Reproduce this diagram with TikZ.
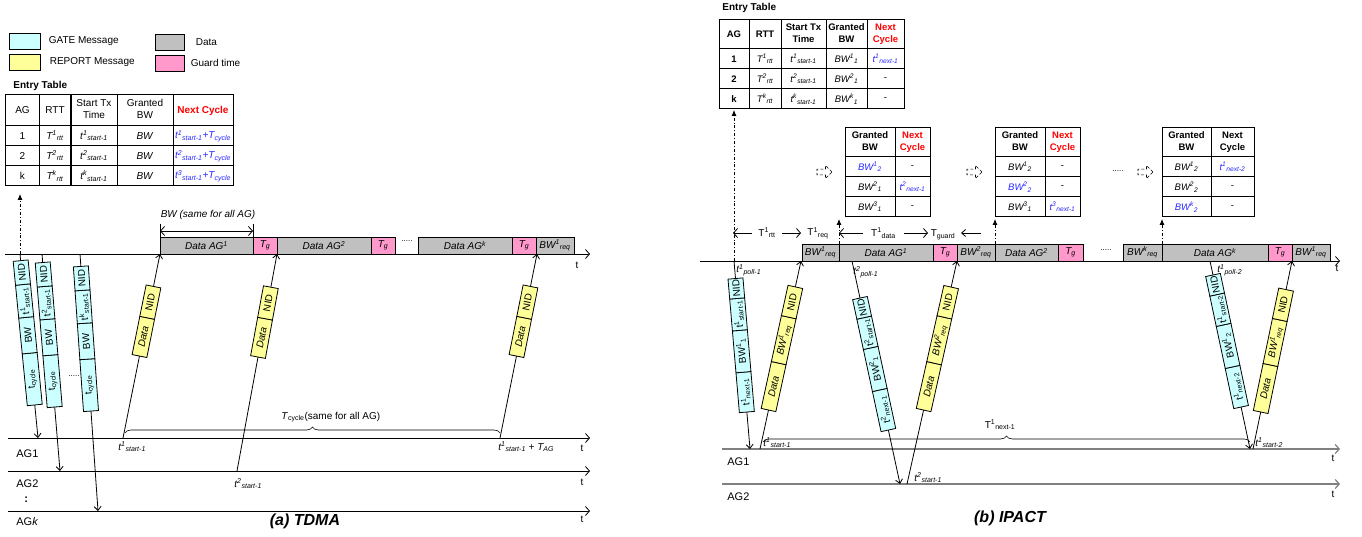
\documentclass[tikz,border=0pt]{standalone}
\usepackage{fontspec}
\setmainfont{Liberation Sans}
\usepackage{tikz}
\usetikzlibrary{arrows,arrows.meta,positioning,matrix,decorations.pathreplacing,shapes.arrows}

\definecolor{gatecol}{RGB}{204,255,255}
\definecolor{repcol}{RGB}{255,255,153}
\definecolor{datacol}{RGB}{192,192,192}
\definecolor{guardcol}{RGB}{255,153,204}
\definecolor{nextblue}{RGB}{40,40,255}
\definecolor{aggray}{RGB}{128,128,128}

\newcommand{\supsub}[2]{\textsuperscript{#1}\textsubscript{#2}}
\newcommand{\twoline}[2]{\begin{tabular}{@{}c@{}}#1\\[2.5pt]#2\end{tabular}}
\newcommand{\fsz}[1]{\fontsize{#1}{#1}\selectfont}

\begin{document}
\begin{tikzpicture}[
	x=1pt, y=-1pt,
	line width=0.8pt,
	>=latex,
	msg/.style={-{Straight Barb[length=4pt,width=7pt]}},
	tline/.style={-{Straight Barb[length=4pt,width=9pt]}},
	dim/.style={{Straight Barb[length=4pt,width=9pt]}-{Straight Barb[length=4pt,width=9pt]}},
	ctrl/.style={-{Latex[length=6pt,width=5pt]}, dash dot},
	pkt/.style={draw, minimum height=15, inner sep=0pt, outer sep=0pt, anchor=west, font=\fsz{10}},
	gate/.style={pkt, fill=gatecol},
	report/.style={pkt, fill=repcol},
	dbar/.style={draw, fill=datacol, minimum height=17, inner sep=0pt, outer sep=0pt, font=\fsz{10}\itshape},
	guard/.style={dbar, fill=guardcol},
	lbl/.style={inner sep=1pt, font=\fsz{10}},
	aglbl/.style={inner sep=0pt, anchor=west, font=\fsz{11}},
	legbox/.style={draw, minimum width=31, minimum height=16, inner sep=0pt},
	hollow/.style={single arrow, draw, densely dashed, line width=0.6pt, minimum height=15, minimum width=13, inner sep=2.5pt, single arrow head extend=3.5pt},
	tbl/.style={matrix of nodes, anchor=north west, inner sep=0pt, line width=1pt,
		column sep=-\pgflinewidth, row sep=-\pgflinewidth,
		nodes={draw, anchor=center, inner sep=1pt, minimum height=20, font=\fsz{10}}}
	]

\path[use as bounding box, fill=white] (0,0) rectangle (1362,537);

% legend
\node[legbox, fill=gatecol] (lgGate) at (24.5,41) {};
\node[lbl, right=7pt of lgGate] (lgGateT) {GATE Message};
\node[legbox, fill=repcol] (lgRep) at (24.5,62.5) {};
\node[lbl, right=8pt of lgRep] (lgRepT) {REPORT Message};
\node[legbox, minimum width=29, fill=datacol] (lgData) at (169.5,42) {};
\node[lbl, right=10pt of lgData] (lgDataT) {Data};
\node[legbox, minimum width=29, fill=guardcol] (lgGuard) at (169.5,63) {};
\node[lbl, right=5pt of lgGuard] (lgGuardT) {Guard time};

% entry table (a)
\node[font=\fsz{10}\bfseries, inner sep=0pt, anchor=west] (entA) at (13,86) {Entry Table};
\matrix[tbl,
	row 1/.style={nodes={minimum height=31}},
	column 1/.style={nodes={minimum width=33}},
	column 2/.style={nodes={minimum width=32}},
	column 3/.style={nodes={minimum width=46}},
	column 4/.style={nodes={minimum width=56}},
	column 5/.style={nodes={minimum width=60, text=nextblue, font=\fsz{10}\itshape}}] (tabA) at (5,94) {
	AG & RTT & \twoline{Start Tx}{Time} & \twoline{Granted}{BW} & |[text=red, font=\fsz{10}\bfseries]| Next Cycle \\
	1 & \textit{T\supsub{1}{rtt}} & \textit{t\supsub{1}{start-1}} & \textit{BW} & t\supsub{1}{start-1}+T\textsubscript{cycle} \\
	2 & \textit{T\supsub{2}{rtt}} & \textit{t\supsub{2}{start-1}} & \textit{BW} & t\supsub{2}{start-1}+T\textsubscript{cycle} \\
	k & \textit{T\supsub{k}{rtt}} & \textit{t\supsub{k}{start-1}} & \textit{BW} & t\supsub{3}{start-1}+T\textsubscript{cycle} \\
};

% time lines (a)
\coordinate (oltA0) at (5,254);  \coordinate (oltA1) at (590,254);
\coordinate (ag1A0) at (8,438);  \coordinate (ag1A1) at (590,438);
\coordinate (ag2A0) at (8,471);  \coordinate (ag2A1) at (590,471);
\coordinate (agkA0) at (8,511);  \coordinate (agkA1) at (590,511);
\draw[tline] (oltA0) -- (oltA1);
\draw[tline] (ag1A0) -- (ag1A1);
\draw[tline] (ag2A0) -- (ag2A1);
\draw[tline] (agkA0) -- (agkA1);
\node[lbl] (tA0) at (577,265) {t};
\node[lbl] (tA1) at (582,448) {t};
\node[lbl] (tA2) at (582,482) {t};
\node[lbl] (tAk) at (582,519) {t};
\node[aglbl] (agA1) at (16,454) {AG1};
\node[aglbl] (agA2) at (16,484) {AG2};
\node[aglbl, font=\fsz{11}\bfseries] (agAd) at (24,500) {:};
\node[aglbl] (agAk) at (16,522) {AG\textit{k}};

% OLT slots (a)
\node[dbar, minimum width=93, anchor=south west] (dA1) at (160,254) {Data AG\textsuperscript{1}};
\node[guard, minimum width=24, right=0pt of dA1] (gA1) {T\textsubscript{g}};
\node[dbar, minimum width=94, right=0pt of gA1] (dA2) {Data AG\textsuperscript{2}};
\node[guard, minimum width=24, right=0pt of dA2] (gA2) {T\textsubscript{g}};
\node[lbl, font=\fsz{8}] (dotA) at (407,241) {.....};
\node[dbar, minimum width=94, anchor=south west] (dAk) at (418,254) {Data AG\textsuperscript{k}};
\node[guard, minimum width=24, right=0pt of dAk] (gAk) {T\textsubscript{g}};
\node[dbar, minimum width=38, right=0pt of gAk] (rqA) {BW\supsub{1}{req}};

\coordinate (bwL0) at (160,224); \coordinate (bwR0) at (253,224);
\coordinate (bwL) at (160,231);  \coordinate (bwR) at (253,231);
\draw (bwL0) -- (dA1.north west);
\draw (bwR0) -- (dA1.north east);
\draw[dim] (bwL) -- (bwR);
\node[lbl, font=\fsz{10}\itshape] (bwT) at (208,215) {BW (same for all AG)};

% GATE messages (a)
\coordinate (ga1s) at (20,254);  \coordinate (ga1e) at (38,438);
\coordinate (ga2s) at (42,254);  \coordinate (ga2e) at (60,471);
\coordinate (ga3s) at (80,254);  \coordinate (ga3e) at (98,511);
\coordinate (ctlA) at (20,194);
\draw[ctrl] (ga1s) -- (ctlA);
\draw[msg] (ga1s) -- (ga1e);
\draw[msg] (ga2s) -- (ga2e);
\draw[msg] (ga3s) -- (ga3e);
\begin{scope}[shift={(ga1e)}, rotate=95.59, transform shape]
	\node[gate, minimum width=52] (ga1p4) at (33.2,0) {t\textsubscript{cycle}};
	\node[gate, minimum width=36] (ga1p3) at (85.2,0) {BW};
	\node[gate, minimum width=33] (ga1p2) at (121.2,0) {t\supsub{1}{start-1}};
	\node[gate, minimum width=24] (ga1p1) at (154.2,0) {NID};
\end{scope}
\begin{scope}[shift={(ga2e)}, rotate=94.74, transform shape]
	\node[gate, minimum width=52] (ga2p4) at (64.2,0) {t\textsubscript{cycle}};
	\node[gate, minimum width=36] (ga2p3) at (116.2,0) {BW};
	\node[gate, minimum width=33] (ga2p2) at (152.2,0) {t\supsub{2}{start-1}};
	\node[gate, minimum width=24] (ga2p1) at (185.2,0) {NID};
\end{scope}
\begin{scope}[shift={(ga3e)}, rotate=94.01, transform shape]
	\node[gate, minimum width=52] (ga3p4) at (100.2,0) {t\textsubscript{cycle}};
	\node[gate, minimum width=36] (ga3p3) at (152.2,0) {BW};
	\node[gate, minimum width=33] (ga3p2) at (188.2,0) {t\supsub{k}{start-1}};
	\node[gate, minimum width=24] (ga3p1) at (221.2,0) {NID};
\end{scope}
\node[lbl, font=\fsz{8}] (dotG) at (74,376) {.....};

% REPORT messages (a)
\coordinate (ra1e) at (123,438);  \coordinate (ra1s) at (160,254);
\coordinate (ra2e) at (237,471);  \coordinate (ra2s) at (277,254);
\coordinate (ra3e) at (500,438);  \coordinate (ra3s) at (537,254);
\draw[msg] (ra1e) -- (ra1s);
\draw[msg] (ra2e) -- (ra2s);
\draw[msg] (ra3e) -- (ra3s);
\begin{scope}[shift={(ra1e)}, rotate=78.63, transform shape]
	\node[report, minimum width=39, font=\fsz{10}\itshape] (ra1p2) at (83.6,0) {Data};
	\node[report, minimum width=32] (ra1p1) at (122.6,0) {NID};
\end{scope}
\begin{scope}[shift={(ra2e)}, rotate=79.56, transform shape]
	\node[report, minimum width=39, font=\fsz{10}\itshape] (ra2p2) at (115.9,0) {Data};
	\node[report, minimum width=32] (ra2p1) at (154.9,0) {NID};
\end{scope}
\begin{scope}[shift={(ra3e)}, rotate=78.63, transform shape]
	\node[report, minimum width=39, font=\fsz{10}\itshape] (ra3p2) at (83.6,0) {Data};
	\node[report, minimum width=32] (ra3p1) at (122.6,0) {NID};
\end{scope}

\coordinate (brA0) at (125,433); \coordinate (brA1) at (500,433);
\draw[line width=0.6pt, decorate, decoration={brace, amplitude=6pt}] (brA0) -- (brA1);
\node[lbl, anchor=west] (cycA) at (280,417) {\textit{T}\textsubscript{cycle}(same for all AG)};
\node[lbl, anchor=west, font=\fsz{10}\itshape] (sA1) at (117,447) {t\supsub{1}{start-1}};
\node[lbl, anchor=west, font=\fsz{10}\itshape] (sA2) at (233,484) {t\supsub{2}{start-1}};
\node[lbl, anchor=west, font=\fsz{10}\itshape] (sA3) at (497,447) {t\supsub{1}{start-1} + T\textsubscript{AG}};

\node[font=\fsz{16}\bfseries\itshape] (capA) at (305,521) {(a) TDMA};

% entry table (b)
\node[font=\fsz{10}\bfseries, inner sep=0pt, anchor=west] (entB) at (722,8) {Entry Table};
\matrix[tbl, nodes={font=\fsz{9.5}},
	row 1/.style={nodes={minimum height=29, font=\fsz{9.5}\bfseries}},
	column 1/.style={nodes={minimum width=30, font=\fsz{9.5}\bfseries}},
	column 2/.style={nodes={minimum width=32}},
	column 3/.style={nodes={minimum width=45}},
	column 4/.style={nodes={minimum width=41}},
	column 5/.style={nodes={minimum width=37}}] (tabB) at (718,19) {
	AG & RTT & \twoline{Start Tx}{Time} & \twoline{Granted}{BW} & |[text=red]| \twoline{Next}{Cycle} \\
	1 & \textit{T\supsub{1}{rtt}} & \textit{t\supsub{1}{start-1}} & \textit{BW\supsub{1}{1}} & |[text=nextblue]| \textit{t\supsub{1}{next-1}} \\
	2 & \textit{T\supsub{2}{rtt}} & \textit{t\supsub{2}{start-1}} & \textit{BW\supsub{2}{1}} & - \\
	k & \textit{T\supsub{k}{rtt}} & \textit{t\supsub{k}{start-1}} & \textit{BW\supsub{k}{1}} & - \\
};

% table updates (b)
\node[hollow] (nx1) at (823,172) {};
\matrix[tbl, nodes={font=\fsz{9.5}},
	row 1/.style={nodes={minimum height=29, font=\fsz{9.5}\bfseries}},
	column 1/.style={nodes={minimum width=50}},
	column 2/.style={nodes={minimum width=35}}] (tabB1) at (844,127) {
	\twoline{Granted}{BW} & |[text=red]| \twoline{Next}{Cycle} \\
	|[text=nextblue]| \textit{BW\supsub{1}{2}} & - \\
	\textit{BW\supsub{2}{1}} & |[text=nextblue]| \textit{t\supsub{2}{next-1}} \\
	\textit{BW\supsub{3}{1}} & - \\
};
\node[hollow] (nx2) at (973,172) {};
\matrix[tbl, nodes={font=\fsz{9.5}},
	row 1/.style={nodes={minimum height=29, font=\fsz{9.5}\bfseries}},
	column 1/.style={nodes={minimum width=50}},
	column 2/.style={nodes={minimum width=35}}] (tabB2) at (994,127) {
	\twoline{Granted}{BW} & |[text=red]| \twoline{Next}{Cycle} \\
	\textit{BW\supsub{1}{2}} & - \\
	|[text=nextblue]| \textit{BW\supsub{2}{2}} & - \\
	\textit{BW\supsub{3}{1}} & |[text=nextblue]| \textit{t\supsub{3}{next-1}} \\
};
\node[lbl, font=\fsz{8}] (dotT) at (1118,171) {.....};
\node[hollow] (nx3) at (1144,172) {};
\matrix[tbl, nodes={font=\fsz{9.5}},
	row 1/.style={nodes={minimum height=29, font=\fsz{9.5}\bfseries}},
	column 1/.style={nodes={minimum width=49}},
	column 2/.style={nodes={minimum width=43}}] (tabB3) at (1161,127) {
	\twoline{Granted}{BW} & \twoline{Next}{Cycle} \\
	\textit{BW\supsub{1}{2}} & |[text=nextblue]| \textit{t\supsub{1}{next-2}} \\
	\textit{BW\supsub{2}{2}} & - \\
	|[text=nextblue]| \textit{BW\supsub{k}{2}} & - \\
};

% time lines (b)
\coordinate (oltB0) at (700,261);  \coordinate (oltB1) at (1340,261);
\coordinate (ag1B0) at (722,449);  \coordinate (ag1B1) at (1340,449);
\coordinate (ag2B0) at (722,484);  \coordinate (ag2B1) at (1340,484);
\draw[tline] (oltB0) -- (oltB1);
\draw[tline, aggray, line width=1.2pt] (ag1B0) -- (ag1B1);
\draw[tline, aggray, line width=1.2pt] (ag2B0) -- (ag2B1);
\node[lbl] (tB0) at (1337,268) {t};
\node[lbl] (tB1) at (1333,458) {t};
\node[lbl] (tB2) at (1333,494) {t};
\node[aglbl] (agB1) at (727,462) {AG1};
\node[aglbl] (agB2) at (727,497) {AG2};

% OLT slots (b)
\node[dbar, minimum width=37, anchor=south west] (rqB1) at (802,261) {BW\supsub{1}{req}};
\node[dbar, minimum width=94, right=0pt of rqB1] (dB1) {Data AG\textsuperscript{1}};
\node[guard, minimum width=24, right=0pt of dB1] (gB1) {T\textsubscript{g}};
\node[dbar, minimum width=38, right=0pt of gB1] (rqB2) {BW\supsub{2}{req}};
\node[dbar, minimum width=63, right=0pt of rqB2] (dB2) {Data AG\textsuperscript{2}};
\node[guard, minimum width=25, right=0pt of dB2] (gB2) {T\textsubscript{g}};
\node[lbl, font=\fsz{8}] (dotB) at (1106,250) {.....};
\node[dbar, minimum width=39, anchor=south west] (rqBk) at (1123,261) {BW\supsub{k}{req}};
\node[dbar, minimum width=106, right=0pt of rqBk] (dBk) {Data AG\textsuperscript{k}};
\node[guard, minimum width=24, right=0pt of dBk] (gBk) {T\textsubscript{g}};
\node[dbar, minimum width=38, right=0pt of gBk] (rqB3) {BW\supsub{1}{req}};

\coordinate (upB1) at (839,219);
\coordinate (upB2) at (995,219);
\coordinate (upB3) at (1162,219);
\draw[ctrl] (dB1.north west) -- (upB1);
\draw[ctrl] (dB2.north west) -- (upB2);
\draw[ctrl] (dBk.north west) -- (upB3);

% timing marks (b)
\coordinate (rttL) at (733,233);  \coordinate (rttR) at (801,233);
\coordinate (datL) at (839,233);  \coordinate (datR) at (928,233);
\coordinate (grdR) at (981,233);  \coordinate (grdL) at (961,233);
\draw[dim] (rttL) -- (rttR) node[midway, lbl, fill=white, inner xsep=6pt] (rttT) {T\supsub{1}{rtt}};
\node[lbl] (reqT) at (818,233) {T\supsub{1}{req}};
\draw[dim] (datL) -- (datR) node[midway, lbl, fill=white, inner xsep=8pt] (datT) {T\supsub{1}{data}};
\node[lbl] (grdT) at (943,235) {T\textsubscript{guard}};
\draw[msg] (grdR) -- (grdL);

% GATE messages (b)
\coordinate (gb1s) at (734,261);   \coordinate (gb1e) at (750,449);
\coordinate (gb2s) at (852,261);   \coordinate (gb2e) at (900,484);
\coordinate (gb3s) at (1210,261);  \coordinate (gb3e) at (1250,449);
\coordinate (ctlB) at (734,110);
\draw[ctrl] (gb1s) -- (ctlB);
\draw[msg] (gb1s) -- (gb1e);
\draw[msg] (gb2s) -- (gb2e);
\draw[msg] (gb3s) -- (gb3e);
\begin{scope}[shift={(gb1e)}, rotate=94.87, transform shape]
	\node[gate, minimum width=40] (gb1p4) at (37.1,0) {t\supsub{1}{next-1}};
	\node[gate, minimum width=42] (gb1p3) at (77.1,0) {BW\supsub{1}{1}};
	\node[gate, minimum width=32] (gb1p2) at (119.1,0) {t\supsub{1}{start-1}};
	\node[gate, minimum width=20] (gb1p1) at (151.1,0) {NID};
\end{scope}
\begin{scope}[shift={(gb2e)}, rotate=102.15, transform shape]
	\node[gate, minimum width=41] (gb2p4) at (55.2,0) {t\supsub{2}{next-1}};
	\node[gate, minimum width=43] (gb2p3) at (96.2,0) {BW\supsub{2}{1}};
	\node[gate, minimum width=31] (gb2p2) at (139.2,0) {t\supsub{2}{start-1}};
	\node[gate, minimum width=20] (gb2p1) at (170.2,0) {NID};
\end{scope}
\begin{scope}[shift={(gb3e)}, rotate=102.01, transform shape]
	\node[gate, minimum width=41] (gb3p4) at (42.9,0) {t\supsub{1}{next-2}};
	\node[gate, minimum width=43] (gb3p3) at (83.9,0) {BW\supsub{1}{2}};
	\node[gate, minimum width=31] (gb3p2) at (126.9,0) {t\supsub{1}{start-2}};
	\node[gate, minimum width=20] (gb3p1) at (157.9,0) {NID};
\end{scope}

% REPORT messages (b)
\coordinate (rb1e) at (760,449);   \coordinate (rb1s) at (801,261);
\coordinate (rb2e) at (907,484);   \coordinate (rb2s) at (957,261);
\coordinate (rb3e) at (1253,449);  \coordinate (rb3s) at (1292,261);
\draw[msg] (rb1e) -- (rb1s);
\draw[msg] (rb2e) -- (rb2s);
\draw[msg] (rb3e) -- (rb3s);
\begin{scope}[shift={(rb1e)}, rotate=77.70, transform shape]
	\node[report, minimum width=48, font=\fsz{10}\itshape] (rb1p3) at (39.9,0) {Data};
	\node[report, minimum width=47, font=\fsz{10}\itshape] (rb1p2) at (87.9,0) {BW\supsub{1}{req}};
	\node[report, minimum width=31] (rb1p1) at (134.9,0) {NID};
\end{scope}
\begin{scope}[shift={(rb2e)}, rotate=77.36, transform shape]
	\node[report, minimum width=48, font=\fsz{10}\itshape] (rb2p3) at (75.8,0) {Data};
	\node[report, minimum width=47, font=\fsz{10}\itshape] (rb2p2) at (123.8,0) {BW\supsub{2}{req}};
	\node[report, minimum width=31] (rb2p1) at (170.8,0) {NID};
\end{scope}
\begin{scope}[shift={(rb3e)}, rotate=78.28, transform shape]
	\node[report, minimum width=48, font=\fsz{10}\itshape] (rb3p3) at (37.8,0) {Data};
	\node[report, minimum width=46, font=\fsz{10}\itshape] (rb3p2) at (85.8,0) {BW\supsub{1}{req}};
	\node[report, minimum width=31] (rb3p1) at (131.8,0) {NID};
\end{scope}

\node[lbl, anchor=west, font=\fsz{10}\itshape] (pB1) at (735,270) {t\supsub{1}{poll-1}};
\node[lbl, anchor=west, font=\fsz{10}\itshape] (pB2) at (852,272) {t\supsub{2}{poll-1}};
\node[lbl, anchor=west, font=\fsz{10}\itshape] (pB3) at (1216,270) {t\supsub{1}{poll-2}};
\node[lbl, anchor=west, font=\fsz{10}\itshape] (sB1) at (762,443) {t\supsub{1}{start-1}};
\node[lbl, anchor=west, font=\fsz{10}\itshape] (sB2) at (913,478) {t\supsub{2}{start-1}};
\node[lbl, anchor=west, font=\fsz{10}\itshape] (sB3) at (1254,443) {t\supsub{1}{start-2}};

\coordinate (brB0) at (763,442); \coordinate (brB1) at (1250,442);
\draw[line width=0.6pt, decorate, decoration={brace, amplitude=6pt}] (brB0) -- (brB1);
\node[lbl] (nxtB) at (1000,425) {T\supsub{1}{next-1}};

\node[font=\fsz{16}\bfseries\itshape] (capB) at (1010,518) {(b) IPACT};

\end{tikzpicture}
\end{document}
